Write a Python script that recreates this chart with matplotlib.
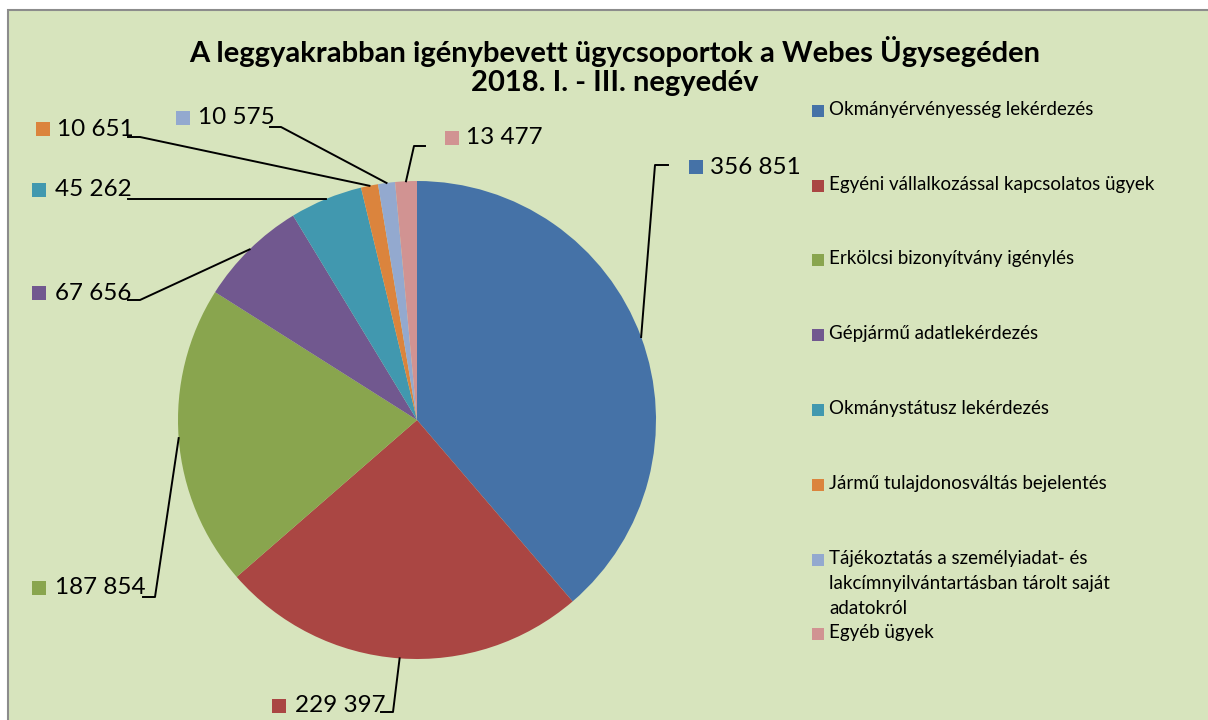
import numpy as np
import matplotlib.pyplot as plt
from matplotlib.patches import Rectangle

# chart data
categories = [
    "Okmányérvényesség lekérdezés",
    "Egyéni vállalkozással kapcsolatos ügyek",
    "Erkölcsi bizonyítvány igénylés",
    "Gépjármű adatlekérdezés",
    "Okmánystátusz lekérdezés",
    "Jármű tulajdonosváltás bejelentés",
    "Tájékoztatás a személyiadat- és\nlakcímnyilvántartásban tárolt saját\nadatokról",
    "Egyéb ügyek",
]
values = [356851, 229397, 187854, 67656, 45262, 10651, 10575, 13477]
colors = ["#4572A7", "#AA4643", "#89A54E", "#71588F",
          "#4198AF", "#DB843D", "#93A9CF", "#D19392"]

title = "A leggyakrabban igénybevett ügycsoportok a Webes Ügysegéden\n2018. I. - III. negyedév"

# layout (pixel coords, y down)
W, H = 1208, 720
center = (417, 420)
radius = 239
# label: (square x, text x, text y, elbow inner x, elbow outer x, elbow y)
label_pos = [
    (689, 710, 167, 655, 668, 165),
    (272, 295, 706, 393, 381, 712),
    (32, 55, 588, 155, 143, 597),
    (32, 55, 293, 140, 128, 300),
    (32, 55, 190, 140, 128, 199),
    (36, 57, 129, 140, 128, 137),
    (176, 198, 118, 281, 270, 127),
    (445, 466, 138, 414, 425, 146),
]
legend_y = [111, 186, 260, 335, 410, 485, 560, 634]

plt.rcParams["font.family"] = ["Lato", "DejaVu Sans"]

fig = plt.figure(figsize=(W / 100, H / 100), dpi=100)
fig.patch.set_facecolor("white")
ax = fig.add_axes([0, 0, 1, 1])

# y axis inverted: startangle -90 and counterclock give a clockwise pie from 12 o'clock
wedges, _ = ax.pie(values, colors=colors, startangle=-90, counterclock=True,
                   center=center, radius=radius, frame=True,
                   wedgeprops=dict(edgecolor="none"))
ax.set_xlim(0, W)
ax.set_ylim(H, 0)
ax.set_aspect("equal")
ax.axis("off")

ax.add_patch(Rectangle((8, 10), W, H, facecolor="#D7E4BD",
                       edgecolor="#8C8C8C", lw=1.5, zorder=0))

total = sum(values)
cum = np.cumsum([0] + values[:-1])
for i, v in enumerate(values):
    frac = (cum[i] + v / 2) / total
    ang = 2 * np.pi * frac
    ex = center[0] + radius * np.sin(ang)
    ey = center[1] - radius * np.cos(ang)
    sx, tx, ty, hin, hout, hy = label_pos[i]
    ax.plot([ex, hin, hout], [ey, hy, hy], color="black", lw=1.4, zorder=3)
    ax.add_patch(Rectangle((sx, ty - 7), 14, 14, facecolor=colors[i],
                           edgecolor="none", zorder=3))
    txt = f"{v:,}".replace(",", " ")
    ax.text(tx, ty, txt, fontsize=17.5, va="center", ha="left", zorder=3)

# legend
for i, name in enumerate(categories):
    y = legend_y[i]
    ax.add_patch(Rectangle((812, y - 6), 12, 12, facecolor=colors[i],
                           edgecolor="none", zorder=3))
    ax.text(829, y - 10, name, fontsize=13.5, va="top", ha="left",
            linespacing=1.58, zorder=3)

ax.text(615, 66, title, fontsize=21, fontweight="bold", ha="center",
        va="center", linespacing=1.15, zorder=3)

fig.savefig("out.png", dpi=100, facecolor=fig.get_facecolor())
